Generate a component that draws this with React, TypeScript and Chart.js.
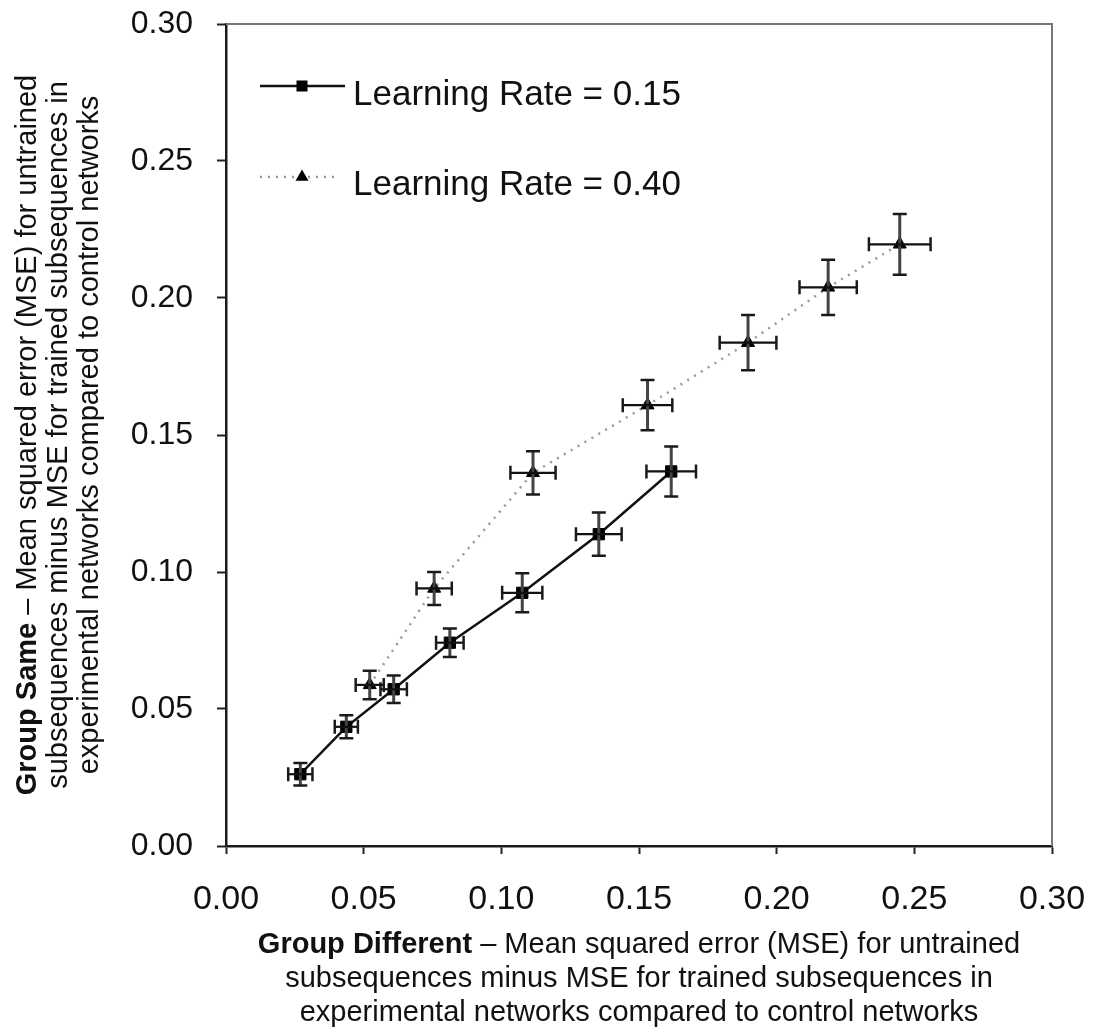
import { useEffect, useRef } from 'react';
import { Chart, registerables } from 'chart.js';

Chart.register(...registerables);

// Learning rate 0.15 (squares, solid line)
const lowRateX = [0.027, 0.0437, 0.0609, 0.0813, 0.1076, 0.1354, 0.1617];
const lowRateY = [0.0262, 0.0435, 0.0572, 0.0742, 0.0924, 0.1138, 0.1367];
const lowRateXErr = [0.0044, 0.0042, 0.0048, 0.005, 0.0073, 0.0083, 0.009];
const lowRateYErr = [0.0041, 0.0042, 0.005, 0.0052, 0.0071, 0.0079, 0.0091];

// Learning rate 0.40 (triangles, dotted line)
const highRateX = [0.0522, 0.0756, 0.1115, 0.1531, 0.1896, 0.2187, 0.2447];
const highRateY = [0.0588, 0.094, 0.1362, 0.1609, 0.1837, 0.2039, 0.2196];
const highRateXErr = [0.0051, 0.0064, 0.0082, 0.009, 0.0103, 0.0104, 0.0112];
const highRateYErr = [0.0052, 0.006, 0.0079, 0.0092, 0.0101, 0.0101, 0.0111];

const seriesLabels = ['Learning Rate = 0.15', 'Learning Rate = 0.40'];

const tickValues = [0, 0.05, 0.1, 0.15, 0.2, 0.25, 0.3];
const tickLabels = ['0.00', '0.05', '0.10', '0.15', '0.20', '0.25', '0.30'];

const yTitleBold = 'Group Same';
const yTitleLines = [
  ' \u2013 Mean squared error (MSE) for untrained',
  'subsequences minus MSE for trained subsequences in',
  'experimental networks compared to control networks',
];
const xTitleBold = 'Group Different';
const xTitleLines = [
  ' \u2013 Mean squared error (MSE) for untrained',
  'subsequences minus MSE for trained subsequences in',
  'experimental networks compared to control networks',
];

const FONT = '"Liberation Sans", Arial, Helvetica, sans-serif';
const WIDTH = 1094;
const HEIGHT = 1035;
const PLOT_LEFT = 226;
const PLOT_RIGHT = 1052;
const PLOT_TOP = 24;
const PLOT_BOTTOM = 846;

const errorSets = [
  { x: lowRateXErr, y: lowRateYErr },
  { x: highRateXErr, y: highRateYErr },
];

const errorBarPlugin = {
  id: 'errorBars',
  afterDatasetsDraw(chart: any) {
    const { ctx } = chart;
    const xs = chart.scales.x;
    const ys = chart.scales.y;
    ctx.save();
    ctx.lineCap = 'butt';
    chart.data.datasets.forEach((ds: any, i: number) => {
      const errs = errorSets[i];
      ds.data.forEach((p: any, j: number) => {
        const cx = xs.getPixelForValue(p.x);
        const cy = ys.getPixelForValue(p.y);
        const x0 = xs.getPixelForValue(p.x - errs.x[j]);
        const x1 = xs.getPixelForValue(p.x + errs.x[j]);
        const y0 = ys.getPixelForValue(p.y - errs.y[j]);
        const y1 = ys.getPixelForValue(p.y + errs.y[j]);
        const cap = 7;
        // vertical bar
        ctx.strokeStyle = '#444';
        ctx.lineWidth = 3;
        ctx.beginPath();
        ctx.moveTo(cx, y0);
        ctx.lineTo(cx, y1);
        ctx.stroke();
        // horizontal bar
        ctx.strokeStyle = '#111';
        ctx.lineWidth = 2.2;
        ctx.beginPath();
        ctx.moveTo(x0, cy);
        ctx.lineTo(x1, cy);
        ctx.stroke();
        // caps
        ctx.strokeStyle = '#1a1a1a';
        ctx.lineWidth = 2.5;
        ctx.beginPath();
        ctx.moveTo(cx - cap, y0);
        ctx.lineTo(cx + cap, y0);
        ctx.moveTo(cx - cap, y1);
        ctx.lineTo(cx + cap, y1);
        ctx.moveTo(x0, cy - cap);
        ctx.lineTo(x0, cy + cap);
        ctx.moveTo(x1, cy - cap);
        ctx.lineTo(x1, cy + cap);
        ctx.stroke();
      });
    });
    ctx.restore();
  },
};

function drawMixed(ctx: CanvasRenderingContext2D, bold: string, rest: string, cx: number, cy: number, size: number) {
  ctx.font = `bold ${size}px ${FONT}`;
  const wb = bold ? ctx.measureText(bold).width : 0;
  ctx.font = `${size}px ${FONT}`;
  const wr = ctx.measureText(rest).width;
  const start = cx - (wb + wr) / 2;
  ctx.textAlign = 'left';
  ctx.textBaseline = 'middle';
  if (bold) {
    ctx.font = `bold ${size}px ${FONT}`;
    ctx.fillText(bold, start, cy);
  }
  ctx.font = `${size}px ${FONT}`;
  ctx.fillText(rest, start + wb, cy);
}

const decorPlugin = {
  id: 'decor',
  afterDraw(chart: any) {
    const { ctx, chartArea } = chart;
    const { left, right, top, bottom } = chartArea;
    ctx.save();

    // frame: top and right edges
    ctx.strokeStyle = '#777';
    ctx.lineWidth = 2;
    ctx.beginPath();
    ctx.moveTo(left, top);
    ctx.lineTo(right, top);
    ctx.lineTo(right, bottom);
    ctx.stroke();

    // legend
    const rows = [
      { lineY: 86, textY: 105 },
      { lineY: 177, textY: 195 },
    ];
    chart.data.datasets.forEach((ds: any, i: number) => {
      const r = rows[i];
      ctx.save();
      ctx.strokeStyle = ds.borderColor;
      ctx.lineWidth = ds.borderWidth;
      ctx.setLineDash(ds.borderDash || []);
      ctx.beginPath();
      ctx.moveTo(260, r.lineY);
      ctx.lineTo(i === 0 ? 345 : 340, r.lineY);
      ctx.stroke();
      ctx.restore();
      ctx.fillStyle = '#000';
      const mx = 302;
      if (ds.pointStyle === 'rect') {
        ctx.fillRect(mx - 5.5, r.lineY - 5.5, 11, 11);
      } else {
        const rad = ds.pointRadius;
        ctx.beginPath();
        ctx.moveTo(mx, r.lineY - rad);
        ctx.lineTo(mx + rad * Math.sqrt(3) / 2, r.lineY + rad / 2);
        ctx.lineTo(mx - rad * Math.sqrt(3) / 2, r.lineY + rad / 2);
        ctx.closePath();
        ctx.fill();
      }
      ctx.fillStyle = '#111';
      ctx.font = `35px ${FONT}`;
      ctx.textAlign = 'left';
      ctx.textBaseline = 'alphabetic';
      ctx.fillText(ds.label, 353, r.textY);
    });

    // axis titles
    ctx.fillStyle = '#111';
    const titleSize = 29;
    const xc = (left + right) / 2;
    const xRows = [945, 979, 1013];
    xTitleLines.forEach((line, i) => {
      drawMixed(ctx, i === 0 ? xTitleBold : '', line, xc, xRows[i], titleSize);
    });
    const yc = (top + bottom) / 2;
    const yCols = [28, 59, 90];
    yTitleLines.forEach((line, i) => {
      ctx.save();
      ctx.translate(yCols[i], yc);
      ctx.rotate(-Math.PI / 2);
      drawMixed(ctx, i === 0 ? yTitleBold : '', line, 0, 0, titleSize);
      ctx.restore();
    });

    ctx.restore();
  },
};

function makeScale(fontSize: number, padding: number, tickLength: number) {
  return {
    type: 'linear' as const,
    min: 0,
    max: 0.3,
    afterBuildTicks: (scale: any) => {
      scale.ticks = tickValues.map((v) => ({ value: v }));
    },
    ticks: {
      callback: (_v: any, index: number) => tickLabels[index],
      color: '#111',
      font: { family: FONT, size: fontSize },
      padding,
      maxRotation: 0,
      autoSkip: false,
    },
    grid: {
      display: true,
      drawOnChartArea: false,
      drawTicks: true,
      tickLength,
      tickColor: '#222',
      tickWidth: 2,
      color: '#222',
    },
    border: { display: true, color: '#1a1a1a', width: 2.5 },
    title: { display: false },
  };
}

function clearScalePadding(scale: any) {
  scale.paddingTop = 0;
  scale.paddingBottom = 0;
  scale.paddingLeft = 0;
  scale.paddingRight = 0;
}

export default function App() {
  const canvasRef = useRef<HTMLCanvasElement | null>(null);

  useEffect(() => {
    const canvas = canvasRef.current;
    if (!canvas) return;
    const xScale: any = makeScale(34, 25, 8);
    xScale.afterFit = (scale: any) => {
      scale.height = HEIGHT - PLOT_BOTTOM;
      clearScalePadding(scale);
    };
    const yScale: any = makeScale(32, 24, 9);
    yScale.afterFit = (scale: any) => {
      scale.width = PLOT_LEFT;
      clearScalePadding(scale);
    };

    const chart = new Chart(canvas, {
      type: 'scatter',
      data: {
        datasets: [
          {
            label: seriesLabels[0],
            data: lowRateX.map((x, i) => ({ x, y: lowRateY[i] })),
            showLine: true,
            borderColor: '#111',
            borderWidth: 2.5,
            pointStyle: 'rect',
            pointRadius: 8,
            pointBackgroundColor: '#000',
            pointBorderColor: '#000',
            pointBorderWidth: 1,
          },
          {
            label: seriesLabels[1],
            data: highRateX.map((x, i) => ({ x, y: highRateY[i] })),
            showLine: true,
            borderColor: '#999',
            borderWidth: 2.5,
            borderDash: [2, 6],
            pointStyle: 'triangle',
            pointRadius: 7.5,
            pointBackgroundColor: '#000',
            pointBorderColor: '#000',
            pointBorderWidth: 1,
          },
        ],
      } as any,
      options: {
        responsive: false,
        animation: false,
        devicePixelRatio: 1,
        layout: { padding: { top: PLOT_TOP, right: WIDTH - PLOT_RIGHT, left: 0, bottom: 0 } },
        plugins: {
          legend: { display: false },
          tooltip: { enabled: false },
        },
        scales: { x: xScale, y: yScale },
      },
      plugins: [errorBarPlugin, decorPlugin],
    });

    return () => {
      chart.destroy();
    };
  }, []);

  return (
    <div style={{ position: 'absolute', left: 0, top: 0, width: WIDTH, height: HEIGHT, background: '#fff' }}>
      <canvas ref={canvasRef} width={WIDTH} height={HEIGHT} style={{ display: 'block' }} />
    </div>
  );
}
